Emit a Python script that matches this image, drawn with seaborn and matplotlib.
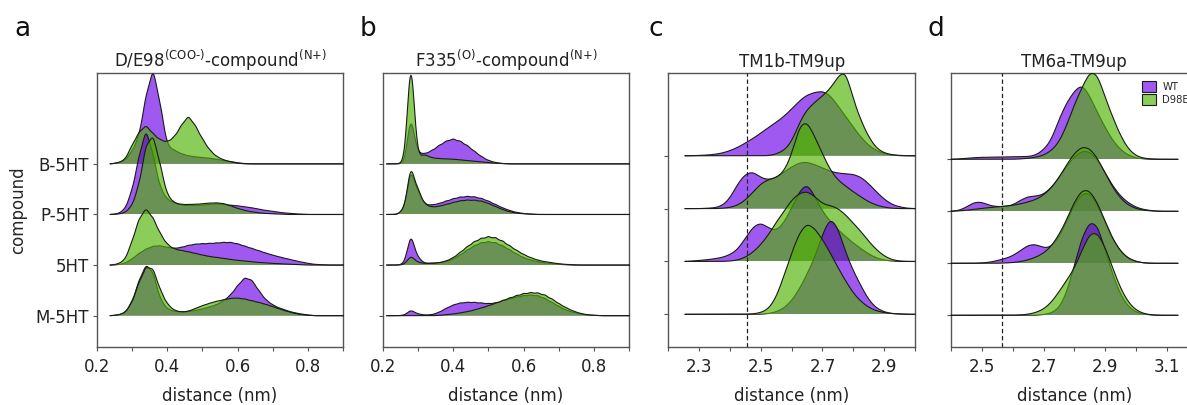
import numpy as np
import pandas as pd
import matplotlib
matplotlib.use("Agg")
import matplotlib.pyplot as plt
from matplotlib.patches import Patch
from matplotlib.colors import to_rgba
import seaborn as sns

# ---------------- data (relative density) ----------------
compounds = ["B-5HT", "P-5HT", "5HT", "M-5HT"]
variants = ["WT", "D98E"]
palette = {"WT": "#6d00e8", "D98E": "#4eb200"}

titles = [r"D/E98$^{\mathrm{(COO‐)}}$-compound$^{\mathrm{(N{+})}}$",
          r"F335$^{\mathrm{(O)}}$-compound$^{\mathrm{(N{+})}}$",
          "TM1b-TM9up", "TM6a-TM9up"]
panel_letters = ["a", "b", "c", "d"]

grid_ab = [0.24, 0.26, 0.28, 0.30, 0.32, 0.34, 0.36, 0.38, 0.40, 0.42, 0.44,
           0.46, 0.48, 0.50, 0.52, 0.54, 0.56, 0.58, 0.60, 0.62, 0.64, 0.66,
           0.68, 0.70, 0.72, 0.74, 0.76, 0.78, 0.80, 0.82, 0.84, 0.86, 0.88]
grid_c = [2.25, 2.275, 2.30, 2.325, 2.35, 2.375, 2.40, 2.425, 2.45, 2.475,
          2.50, 2.525, 2.55, 2.575, 2.60, 2.625, 2.65, 2.675, 2.70, 2.725,
          2.75, 2.775, 2.80, 2.825, 2.85, 2.875, 2.90, 2.925, 2.95, 2.975]
grid_d = [2.40, 2.425, 2.45, 2.475, 2.50, 2.525, 2.55, 2.575, 2.60, 2.625,
          2.65, 2.675, 2.70, 2.725, 2.75, 2.775, 2.80, 2.825, 2.85, 2.875,
          2.90, 2.925, 2.95, 2.975, 3.00, 3.025, 3.05, 3.075, 3.10]

# panel a : D/E98-compound
A_WT_B = [0,3,10,37,82,205,292,183,54,41,30,24,21,19,17,14,10,7,3,1,0,0,0,0,0,0,0,0,0,0,0,0,0]
A_D98E_B = [0,3,12,55,95,117,90,72,65,80,115,146,115,75,42,22,12,6,2,0,0,0,0,0,0,0,0,0,0,0,0,0,0]
A_WT_P = [0,2,15,70,173,260,180,80,45,35,28,27,27,28,30,32,30,28,26,23,20,16,12,9,6,4,2,1,0,0,0,0,0]
A_D98E_P = [0,1,5,25,88,210,241,151,58,35,30,30,31,32,34,35,33,26,18,12,8,5,3,2,1,0,0,0,0,0,0,0,0]
A_WT_5 = [0,1,5,18,35,48,57,58,53,50,53,59,63,64,65,66,68,68,64,57,50,43,36,30,24,19,14,9,5,2,1,0,0]
A_D98E_5 = [0,3,15,70,139,172,142,95,62,48,44,40,35,30,26,23,20,17,14,12,10,8,6,5,4,3,2,1,0,0,0,0,0]
A_WT_M = [0,2,8,40,105,155,132,50,20,13,11,12,16,20,26,33,44,62,90,115,108,75,47,32,22,15,9,5,2,0,0,0,0]
A_D98E_M = [0,2,8,38,100,148,143,78,35,16,11,13,22,30,37,43,48,52,53,50,45,40,34,27,20,13,7,3,1,0,0,0,0]

# panel b : F335-compound
B_WT_B = [0,0,145,33,30,40,55,68,75,68,55,38,22,10,4,1,0,0,0,0,0,0,0,0,0,0,0,0,0,0,0,0,0]
B_D98E_B = [0,3,330,20,28,18,16,15,14,12,10,8,6,4,2,1,0,0,0,0,0,0,0,0,0,0,0,0,0,0,0,0,0]
B_WT_P = [0,13,136,70,30,28,33,40,47,52,54,53,48,40,30,20,12,6,3,1,0,0,0,0,0,0,0,0,0,0,0,0,0]
B_D98E_P = [0,15,148,75,30,22,25,30,36,41,43,43,40,33,24,15,8,4,2,1,0,0,0,0,0,0,0,0,0,0,0,0,0]
B_WT_5 = [0,3,94,22,5,6,7,10,18,30,45,58,67,70,67,58,46,33,22,15,10,7,4,2,1,0,0,0,0,0,0,0,0]
B_D98E_5 = [0,1,28,8,5,5,7,12,22,38,55,70,80,85,82,72,58,44,32,22,15,10,7,4,2,1,0,0,0,0,0,0,0]
B_WT_M = [0,1,17,5,2,3,10,22,32,38,40,40,38,36,38,44,50,56,60,62,60,52,40,28,17,10,5,2,1,0,0,0,0]
B_D98E_M = [0,0,0,0,0,0,1,3,5,8,12,17,23,30,37,45,53,60,66,69,68,62,50,36,24,14,7,3,1,0,0,0,0]

# panel c : TM1b-TM9up
C_WT_B = [0,0,1,2,4,8,15,25,38,52,68,85,100,118,140,165,183,190,195,182,150,118,85,55,30,15,6,2,0,0]
C_D98E_B = [0,0,0,0,0,0,0,0,0,0,0,0,5,15,40,100,140,160,180,200,238,262,167,105,55,22,8,3,1,0]
C_WT_P = [0,0,0,1,2,8,30,75,105,112,92,86,92,110,125,138,140,132,122,112,106,105,103,95,75,50,28,12,5,1]
C_D98E_P = [0,0,0,0,0,1,3,10,25,50,75,88,92,110,160,252,265,215,165,115,85,68,50,35,20,10,4,1,0,0]
C_WT_5 = [0,1,3,5,8,12,20,35,70,105,118,100,90,115,160,210,238,195,150,120,95,75,55,38,22,10,4,1,0,0]
C_D98E_5 = [0,0,0,0,0,0,1,4,12,28,50,80,118,150,185,205,212,195,172,168,160,140,115,90,60,35,16,5,1,0]
C_WT_M = [0,0,0,0,0,0,0,0,0,0,0,2,7,18,40,75,120,170,240,295,262,185,130,85,42,18,7,2,1,0]
C_D98E_M = [0,0,0,0,0,0,0,0,0,1,5,15,50,115,185,245,276,258,225,185,140,100,63,38,20,10,5,2,1,0]

# panel d : TM6a-TM9up
D_WT_B = [0,1,3,5,6,6,7,7,7,8,8,12,28,55,120,170,205,228,190,140,95,55,28,12,4,1,0,0,0]
D_D98E_B = [0,0,0,0,0,0,0,0,0,1,3,6,12,25,50,100,165,215,266,258,185,125,70,30,10,3,1,0,0]
D_WT_P = [0,2,12,28,28,17,14,14,18,33,45,45,50,70,100,135,165,182,180,155,115,75,45,25,12,5,2,0,0]
D_D98E_P = [0,1,3,6,9,11,13,15,18,22,28,35,48,70,100,140,175,195,190,160,115,70,38,18,8,3,1,0,0]
D_WT_5 = [0,0,0,0,1,3,8,14,22,38,55,58,45,48,78,125,178,212,212,178,122,70,35,14,5,1,0,0,0]
D_D98E_5 = [0,0,0,0,0,0,0,1,2,5,10,18,30,50,85,130,185,222,220,182,125,72,35,14,5,1,0,0,0]
D_WT_M = [0,0,0,0,0,0,0,0,0,0,0,0,2,6,20,65,150,235,284,274,195,120,60,25,9,3,1,0,0]
D_D98E_M = [0,0,0,0,0,0,0,0,0,1,3,8,18,38,70,105,140,195,248,250,205,140,80,38,15,5,1,0,0]

xticks_ab = [0.2, 0.3, 0.4, 0.5, 0.6, 0.7, 0.8, 0.9]
xticklabels_ab = ["0.2", "", "0.4", "", "0.6", "", "0.8", ""]
xticks_c = [2.2, 2.3, 2.4, 2.5, 2.6, 2.7, 2.8, 2.9, 3.0]
xticklabels_c = ["", "2.3", "", "2.5", "", "2.7", "", "2.9", ""]
xticks_d = [2.4, 2.5, 2.6, 2.7, 2.8, 2.9, 3.0, 3.1, 3.2]
xticklabels_d = ["", "2.5", "", "2.7", "", "2.9", "", "3.1", ""]
ref_lines = [None, None, 2.456, 2.564]

panels = [
    dict(grid=grid_ab, WT=[A_WT_B, A_WT_P, A_WT_5, A_WT_M],
         D98E=[A_D98E_B, A_D98E_P, A_D98E_5, A_D98E_M],
         xlim=(0.2, 0.9), clip=(0.238, 0.9), sigma=0.0105, step=0.02,
         ylim=(-0.609, 4.796), hunit=151.8, xt=xticks_ab, xtl=xticklabels_ab),
    dict(grid=grid_ab, WT=[B_WT_B, B_WT_P, B_WT_5, B_WT_M],
         D98E=[B_D98E_B, B_D98E_P, B_D98E_5, B_D98E_M],
         xlim=(0.2, 0.9), clip=(0.211, 0.9), sigma=0.010, step=0.02,
         ylim=(-0.609, 4.796), hunit=151.8, xt=xticks_ab, xtl=xticklabels_ab),
    dict(grid=grid_c, WT=[C_WT_B, C_WT_P, C_WT_5, C_WT_M],
         D98E=[C_D98E_B, C_D98E_P, C_D98E_5, C_D98E_M],
         xlim=(2.2, 3.0), clip=(2.254, 3.0), sigma=0.016, step=0.025,
         ylim=(-0.609, 4.566), hunit=158.6, xt=xticks_c, xtl=xticklabels_c),
    dict(grid=grid_d, WT=[D_WT_B, D_WT_P, D_WT_5, D_WT_M],
         D98E=[D_D98E_B, D_D98E_P, D_D98E_5, D_D98E_M],
         xlim=(2.4, 3.2), clip=(2.4, 3.136), sigma=0.016, step=0.025,
         ylim=(-0.60, 4.66), hunit=156.0, xt=xticks_d, xtl=xticklabels_d),
]

# ---------------- style / layout ----------------
sns.set_style("ticks")
plt.rcParams["font.family"] = ["DejaVu Sans"]
plt.rcParams["mathtext.fontset"] = "dejavusans"

FW, FH = 1187, 405
fig = plt.figure(figsize=(FW / 100, FH / 100), dpi=100)
left_px = [96.7, 382.7, 668.3, 951.0]
letter_px = [22, 368, 656, 936]
ax_w, ax_top, ax_bot = 246.7, 73.0, 346.5

FILL_ALPHA = 0.65
LINE_COLOR = "#1a1a1a"
SPINE_COLOR = "#555555"


def bw_for(sigma):
    def factor(kde):
        w = getattr(kde, "weights", None)
        std = np.sqrt(np.cov(kde.dataset, rowvar=1, bias=False, aweights=w))
        return sigma / float(std)
    return factor


for p, pan in enumerate(panels):
    ax = fig.add_axes([left_px[p] / FW, 1 - ax_bot / FH, ax_w / FW, (ax_bot - ax_top) / FH])
    ax.set_xlim(pan["xlim"])
    ax.set_ylim(pan["ylim"])
    ytop = pan["ylim"][1]
    x0, x1 = pan["xlim"]

    for r, comp in enumerate(compounds):
        base = 3 - r
        for var in variants:
            vals = pan[var][r]
            df = pd.DataFrame({"distance": pan["grid"], "weight": vals})
            ins = ax.inset_axes([x0, base, x1 - x0, ytop - base], transform=ax.transData)
            ins.patch.set_alpha(0)
            kws = dict(data=df, x="distance", weights="weight", bw_method=bw_for(pan["sigma"]),
                       cut=20, clip=pan["clip"], gridsize=400, ax=ins)
            sns.kdeplot(**kws, fill=True, color=palette[var], alpha=FILL_ALPHA,
                        linewidth=0, edgecolor="none")
            sns.kdeplot(**kws, color=LINE_COLOR, linewidth=0.8, clip_on=False)
            ins.set_xlim(pan["xlim"])
            ins.set_ylim(0, (ytop - base) * pan["hunit"] / (pan["step"] * sum(vals)))
            ins.set_xticks([])
            ins.set_yticks([])
            ins.set_xlabel("")
            ins.set_ylabel("")
            ins.set_axis_off()

    if ref_lines[p] is not None:
        ax.axvline(ref_lines[p], color="#222222", lw=0.9, ls=(0, (3.5, 2.2)), zorder=10)

    ax.set_xticks(pan["xt"])
    ax.set_xticklabels(pan["xtl"])
    ax.set_yticks([3, 2, 1, 0])
    if p == 0:
        ax.set_yticklabels(compounds)
        ax.set_ylabel("compound", fontsize=12, labelpad=6.6)
    else:
        ax.set_yticklabels([])
    ax.tick_params(axis="x", labelsize=12, length=3, width=0.8, color=SPINE_COLOR, pad=5,
                   labelcolor="#222222")
    ax.tick_params(axis="y", labelsize=12, length=3, width=0.8, color=SPINE_COLOR, pad=2.3,
                   labelcolor="#222222")
    ax.set_xlabel("distance (nm)", fontsize=12, labelpad=8.5, color="#222222")
    ax.set_title(titles[p], fontsize=12, pad=4, color="#222222")
    for s in ax.spines.values():
        s.set_color(SPINE_COLOR)
        s.set_linewidth(1.0)
    fig.text(letter_px[p] / FW, 1 - 29 / FH, panel_letters[p], fontsize=19,
             ha="center", va="center", color="#111111")

    if p == 3:
        handles = [Patch(facecolor=to_rgba(palette[v], FILL_ALPHA), edgecolor=LINE_COLOR,
                         linewidth=0.8, label=v) for v in variants]
        ax.legend(handles=handles, loc="upper left", bbox_to_anchor=(1142.3 / FW, 1 - 81 / FH),
                  bbox_transform=fig.transFigure, frameon=False, fontsize=7.2,
                  handlelength=1.37, handleheight=1.33, handletextpad=0.63,
                  labelspacing=0.22, borderpad=0, borderaxespad=0)

fig.savefig("out.png", dpi=100)
